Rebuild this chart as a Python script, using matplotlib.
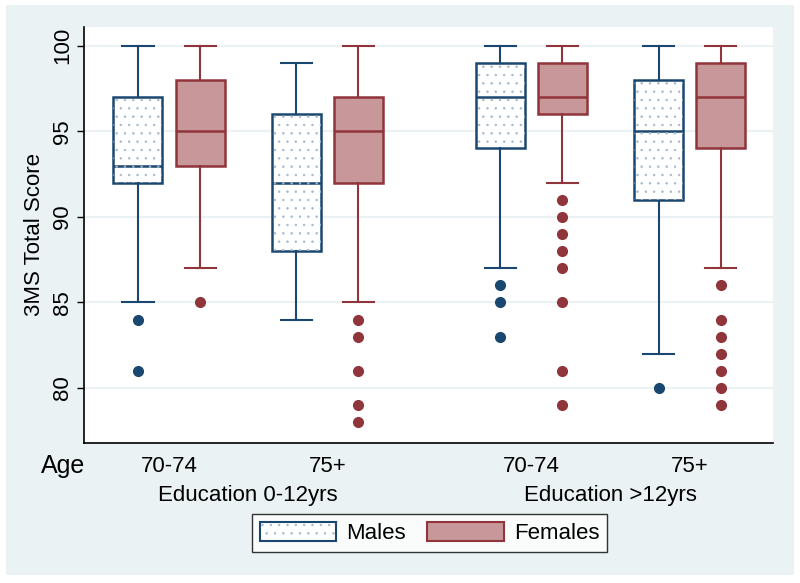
import matplotlib.pyplot as plt
from matplotlib.patches import Patch, PathPatch, Rectangle
from matplotlib.legend_handler import HandlerTuple
import matplotlib.transforms as mtransforms

plt.rcParams['font.family'] = ['Liberation Sans', 'DejaVu Sans']
plt.rcParams['hatch.linewidth'] = 0.5

# categories
edu_groups = ["Education 0-12yrs", "Education >12yrs"]
age_groups = ["70-74", "75+"]

# box statistics (order: edu1/70-74, edu1/75+, edu2/70-74, edu2/75+)
males_q1 = [92, 88, 94, 91]
males_med = [93, 92, 97, 95]
males_q3 = [97, 96, 99, 98]
males_lo = [85, 84, 87, 82]
males_hi = [100, 99, 100, 100]
males_out = [[84, 81], [], [86, 85, 83], [80]]

females_q1 = [93, 92, 96, 94]
females_med = [95, 95, 97, 97]
females_q3 = [98, 97, 99, 99]
females_lo = [87, 85, 92, 87]
females_hi = [100, 100, 100, 100]
females_out = [[85], [84, 83, 81, 79, 78], [91, 90, 89, 88, 87, 85, 81, 79],
               [86, 84, 83, 82, 81, 80, 79]]

navy = '#1A476F'
maroon = '#90353B'
female_fill = '#C8979A'
bg = '#EAF2F3'
dots = '#A3B7CB'


def make_stats(q1, med, q3, lo, hi, out):
    return [dict(q1=a, med=b, q3=c, whislo=d, whishi=e, fliers=f)
            for a, b, c, d, e, f in zip(q1, med, q3, lo, hi, out)]


# group layout
centers = []
tick_labels = []
for i, edu in enumerate(edu_groups):
    for j, age in enumerate(age_groups):
        centers.append(1.37 + j * 2.55 + i * 5.84)
        tick_labels.append(age)
male_pos = [c - 0.5 for c in centers]
female_pos = [c + 0.5 for c in centers]

fig = plt.figure(figsize=(8, 5.83), dpi=100, facecolor='white')
fig.patches.append(Rectangle((0.008, 0.014), 0.984, 0.978, transform=fig.transFigure,
                             facecolor=bg, edgecolor='none', zorder=-10))
ax = fig.add_axes([0.105, 0.240, 0.861, 0.714])
ax.set_facecolor('white')

for y in [80, 85, 90, 95, 100]:
    ax.axhline(y, color=bg, lw=1.5, zorder=0)

def draw(stats, pos, edge, face):
    return ax.bxp(stats, positions=pos, widths=0.79, capwidths=0.5, patch_artist=True,
                  boxprops=dict(facecolor=face, edgecolor=edge, linewidth=1.8),
                  medianprops=dict(color=edge, linewidth=1.8),
                  whiskerprops=dict(color=edge, linewidth=1.5),
                  capprops=dict(color=edge, linewidth=1.5),
                  flierprops=dict(marker='o', markerfacecolor=edge, markeredgecolor=edge,
                                  markersize=7),
                  manage_ticks=False, zorder=2)

bm = draw(make_stats(males_q1, males_med, males_q3, males_lo, males_hi, males_out),
          male_pos, navy, 'white')
draw(make_stats(females_q1, females_med, females_q3, females_lo, females_hi, females_out),
     female_pos, maroon, female_fill)

for box in bm['boxes']:
    ax.add_patch(PathPatch(box.get_path(), facecolor='none', edgecolor=dots, hatch='..',
                           lw=0, zorder=2.1))

ax.set_xlim(0, 11.1)
ax.set_ylim(76.78, 101.11)
ax.set_yticks([80, 85, 90, 95, 100])
ax.tick_params(axis='y', labelsize=16, length=5, width=1, labelrotation=90, pad=3)
for lab in ax.get_yticklabels():
    lab.set_va('center')
ax.set_xticks(centers)
ax.set_xticklabels(tick_labels, fontsize=16)
ax.tick_params(axis='x', length=0, pad=9)
ax.set_ylabel("3MS Total Score", fontsize=16, labelpad=5)
for s in ['top', 'right']:
    ax.spines[s].set_visible(False)
for s in ['left', 'bottom']:
    ax.spines[s].set_color('black')
    ax.spines[s].set_linewidth(1.2)

trans = mtransforms.blended_transform_factory(ax.transData, fig.transFigure)
for i, edu in enumerate(edu_groups):
    mid = (centers[2 * i] + centers[2 * i + 1]) / 2
    ax.text(mid, 1 - 496 / 583, edu, transform=trans, ha='center', va='center', fontsize=16)
fig.text(63 / 800, 1 - 466 / 583, "Age", ha='center', va='center', fontsize=18)

h_m = (Patch(facecolor='white', edgecolor=dots, hatch='..', lw=0),
       Patch(facecolor='none', edgecolor=navy, lw=1.5))
h_f = Patch(facecolor=female_fill, edgecolor=maroon, lw=1.5)
leg = fig.legend([h_m, h_f], ["Males", "Females"], ncol=2, loc='center',
                 bbox_to_anchor=(0.537, 0.086), fontsize=16, frameon=True, fancybox=False,
                 edgecolor='black', handlelength=3.45, handleheight=0.95, columnspacing=0.95,
                 handletextpad=0.45, borderpad=0.35, borderaxespad=0,
                 handler_map={tuple: HandlerTuple(ndivide=1)})
leg.get_frame().set_linewidth(1.0)

fig.savefig('out.png', dpi=100, facecolor='white')
